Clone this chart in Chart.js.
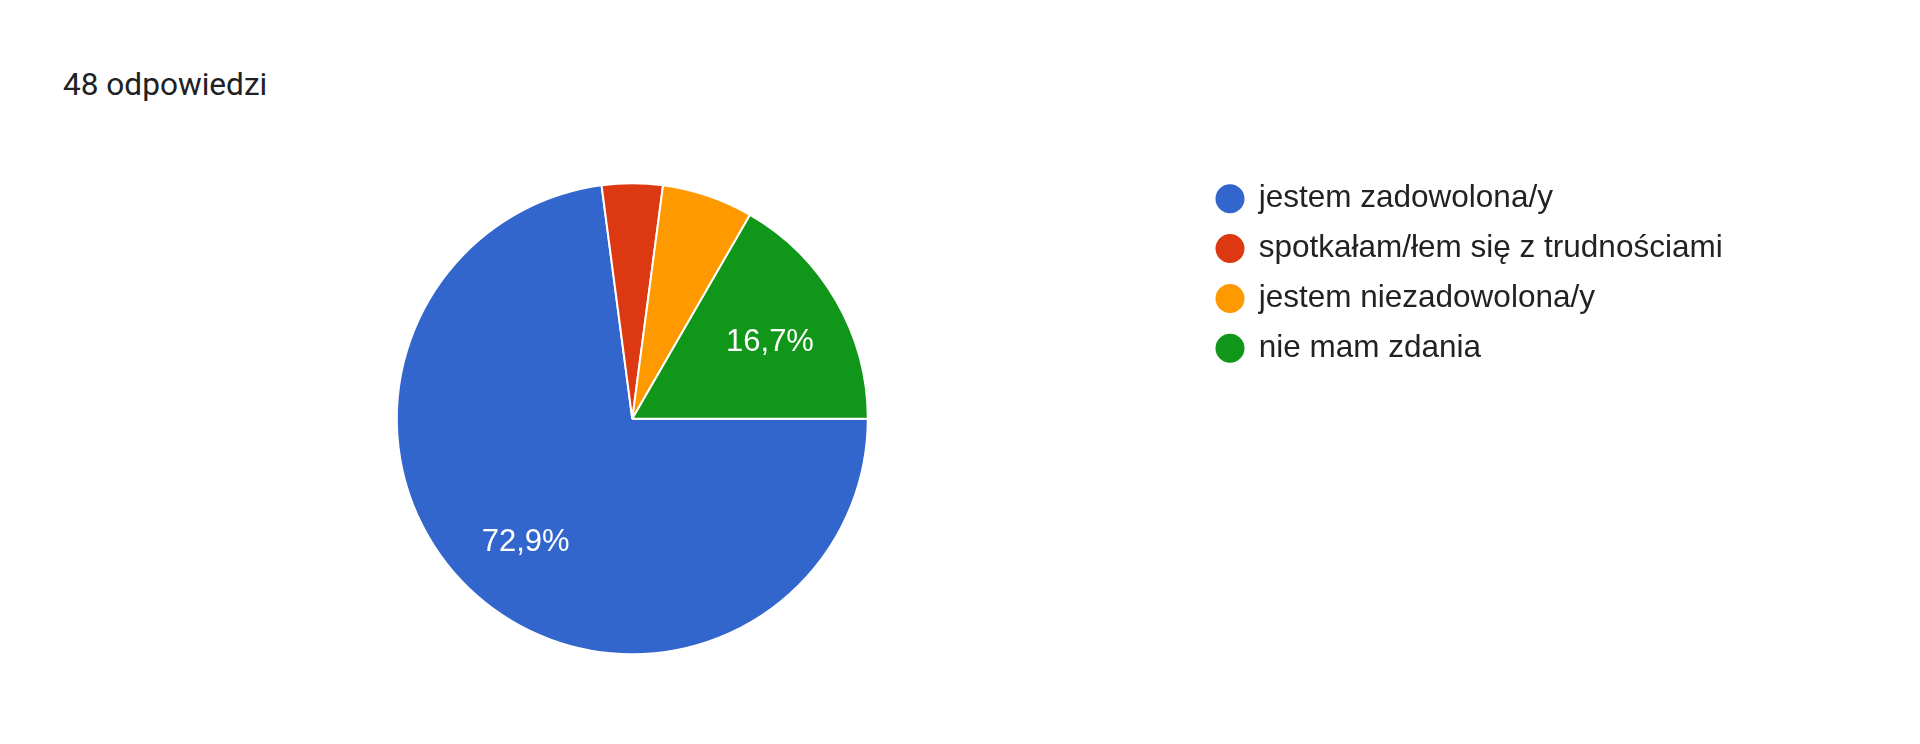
<!DOCTYPE html>
<html>
<head>
<meta charset="utf-8">
<script src="https://cdn.jsdelivr.net/npm/chart.js@4.4.1/dist/chart.umd.min.js"></script>
<style>
  html, body { margin: 0; padding: 0; background: #ffffff; }
  #wrap { position: relative; width: 1920px; height: 744px; overflow: hidden; }
  #title { position: absolute; left: 63px; top: 69px; font-family: Roboto, "Noto Sans", Arial, sans-serif; font-size: 31.6px; line-height: 32px; color: #202124; white-space: nowrap; }
  canvas { position: absolute; left: 0; top: 0; }
</style>
</head>
<body>
<div id="wrap">
  <div id="title"></div>
  <canvas id="c" width="1920" height="744"></canvas>
</div>
<script>
const titleText = '48 odpowiedzi';
const categories = ['jestem zadowolona/y', 'spotkałam/łem się z trudnościami', 'jestem niezadowolona/y', 'nie mam zdania'];
const responses = [35, 2, 3, 8];
const sliceColors = ['#3366cc', '#dc3912', '#ff9900', '#109618'];

document.getElementById('title').textContent = titleText;

const fmtPct = p => p.toFixed(1).replace('.', ',') + '%';
const labelFontSize = 31;

const sliceLabels = {
  id: 'sliceLabels',
  afterDatasetsDraw(chart) {
    const ctx = chart.ctx;
    const meta = chart.getDatasetMeta(0);
    const data = chart.data.datasets[0].data;
    const total = data.reduce((a, b) => a + b, 0);
    meta.data.forEach((arc, i) => {
      const pct = data[i] / total * 100;
      if (pct < 10) return;
      const p = arc.getProps(['x', 'y', 'startAngle', 'endAngle', 'outerRadius'], true);
      const mid = (p.startAngle + p.endAngle) / 2;
      const r = p.outerRadius * 0.68;
      ctx.save();
      ctx.font = labelFontSize + 'px "Liberation Sans", Arial, sans-serif';
      ctx.fillStyle = '#ffffff';
      ctx.textAlign = 'center';
      ctx.textBaseline = 'alphabetic';
      ctx.fillText(fmtPct(pct), p.x + Math.cos(mid) * r - 1, p.y + Math.sin(mid) * r + 0.36 * labelFontSize + 1);
      ctx.restore();
    });
  }
};

const legendFontSize = 31.5;
const legendPad = 18.3;
const markerBox = 26;
const targetLegendLeft = 1230 - markerBox / 2 - legendPad;

const chart = new Chart(document.getElementById('c'), {
  type: 'pie',
  data: {
    labels: categories,
    datasets: [{
      data: responses,
      backgroundColor: sliceColors,
      borderColor: '#ffffff',
      borderWidth: 2,
      hoverOffset: 0,
      radius: 235.5
    }]
  },
  options: {
    responsive: false,
    animation: false,
    rotation: 90,
    layout: { padding: { left: 65.9, right: 180, top: 164.75, bottom: 71.15 } },
    plugins: {
      tooltip: { enabled: false },
      legend: {
        position: 'right',
        align: 'start',
        labels: {
          usePointStyle: true,
          pointStyle: 'circle',
          boxWidth: markerBox,
          boxHeight: 31 / Math.SQRT2,
          padding: legendPad,
          color: '#222222',
          font: { family: '"Liberation Sans", Arial, sans-serif', size: legendFontSize }
        }
      }
    }
  },
  plugins: [sliceLabels]
});

const dx = targetLegendLeft - chart.legend.left;
chart.options.layout.padding.right = Math.max(0, chart.options.layout.padding.right - dx);
chart.update('none');
</script>
</body>
</html>
